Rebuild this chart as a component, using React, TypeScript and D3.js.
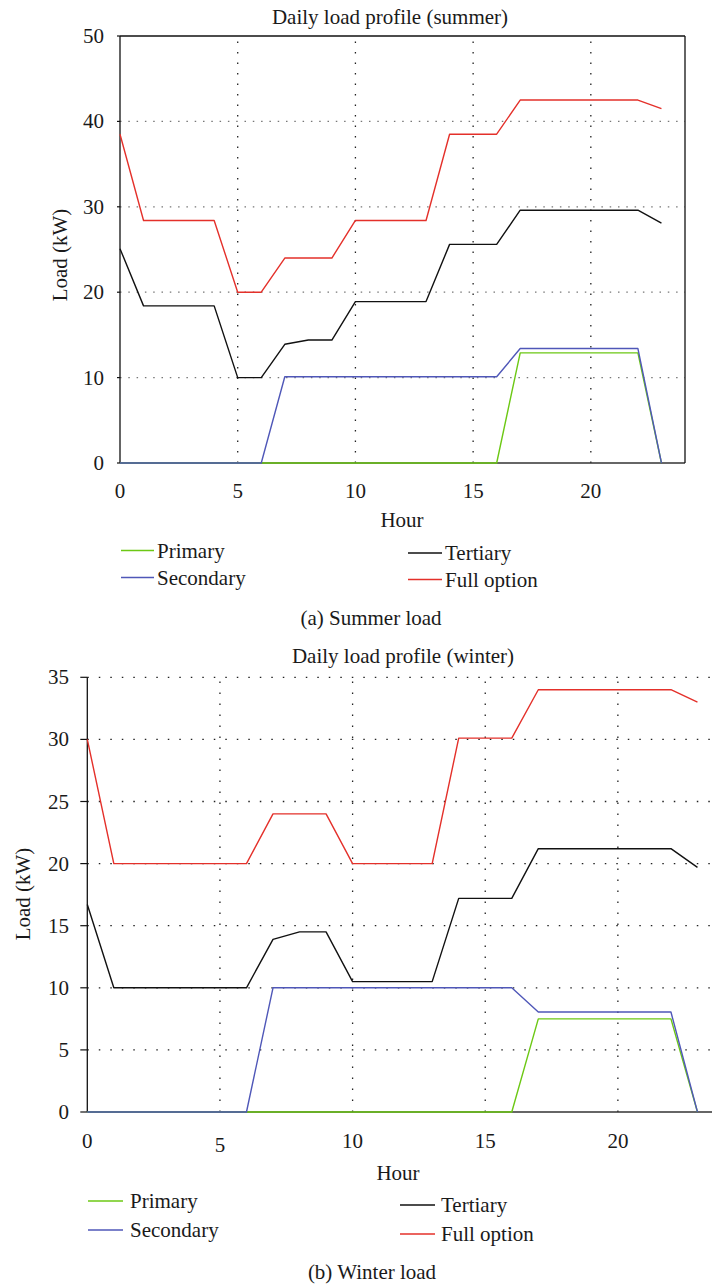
import React from "react";
import * as d3 from "d3";

// hour of the day (x values)
const hours = [0, 1, 2, 3, 4, 5, 6, 7, 8, 9, 10, 11, 12, 13, 14, 15, 16, 17, 18, 19, 20, 21, 22, 23];

const seriesNames = ["Primary", "Secondary", "Tertiary", "Full option"];
const seriesColors = ["#6cc814", "#4f57b8", "#111111", "#e4302a"];

// summer load (kW)
const summerPrimary = [0, 0, 0, 0, 0, 0, 0, 0, 0, 0, 0, 0, 0, 0, 0, 0, 0, 12.9, 12.9, 12.9, 12.9, 12.9, 12.9, 0];
const summerSecondary = [0, 0, 0, 0, 0, 0, 0, 10.1, 10.1, 10.1, 10.1, 10.1, 10.1, 10.1, 10.1, 10.1, 10.1, 13.4, 13.4, 13.4, 13.4, 13.4, 13.4, 0];
const summerTertiary = [25.1, 18.4, 18.4, 18.4, 18.4, 10, 10, 13.9, 14.4, 14.4, 18.9, 18.9, 18.9, 18.9, 25.6, 25.6, 25.6, 29.6, 29.6, 29.6, 29.6, 29.6, 29.6, 28.1];
const summerFull = [38.5, 28.4, 28.4, 28.4, 28.4, 20, 20, 24, 24, 24, 28.4, 28.4, 28.4, 28.4, 38.5, 38.5, 38.5, 42.5, 42.5, 42.5, 42.5, 42.5, 42.5, 41.5];

// winter load (kW)
const winterPrimary = [0, 0, 0, 0, 0, 0, 0, 0, 0, 0, 0, 0, 0, 0, 0, 0, 0, 7.5, 7.5, 7.5, 7.5, 7.5, 7.5, 0];
const winterSecondary = [0, 0, 0, 0, 0, 0, 0, 10, 10, 10, 10, 10, 10, 10, 10, 10, 10, 8.05, 8.05, 8.05, 8.05, 8.05, 8.05, 0];
const winterTertiary = [16.7, 10, 10, 10, 10, 10, 10, 13.9, 14.5, 14.5, 10.5, 10.5, 10.5, 10.5, 17.2, 17.2, 17.2, 21.2, 21.2, 21.2, 21.2, 21.2, 21.2, 19.7];
const winterFull = [30, 20, 20, 20, 20, 20, 20, 24, 24, 24, 20, 20, 20, 20, 30.1, 30.1, 30.1, 34, 34, 34, 34, 34, 34, 33];

const xTicks = [0, 5, 10, 15, 20];
const summerYTicks = [0, 10, 20, 30, 40, 50];
const winterYTicks = [0, 5, 10, 15, 20, 25, 30, 35];

const FONT = "'Liberation Serif', 'Times New Roman', serif";

const Panel = ({ cfg }) => {
    const x = d3.scaleLinear().domain([0, 24]).range([cfg.left, cfg.right]);
    const y = d3.scaleLinear().domain([0, cfg.yMax]).range([cfg.bottom, cfg.top]);
    const line = d3.line().x((d, i) => x(hours[i])).y((d) => y(d));

    return (
        <g fontFamily={FONT} fontSize={21} fill="#1a1a1a">
            <text x={cfg.titleX} y={cfg.titleY} textAnchor="middle" dominantBaseline="central">{cfg.title}</text>

            {/* horizontal grid */}
            {cfg.yTicks.filter((t) => t > 0 && (t < cfg.yMax || !cfg.frame)).map((t) => (
                <line key={"h" + t} x1={x(0)} x2={x(24)} y1={y(t)} y2={y(t)}
                    stroke={cfg.hGridColor} strokeWidth={1.3} strokeDasharray={cfg.hDash} />
            ))}
            {/* vertical grid */}
            {xTicks.filter((t) => t > 0).map((t) => (
                <line key={"v" + t} x1={x(t)} x2={x(t)} y1={y(0)} y2={y(cfg.yMax)}
                    stroke="#222" strokeWidth={1.3} strokeDasharray={cfg.vDash} />
            ))}

            {/* frame */}
            <line x1={x(0)} x2={x(24)} y1={y(0)} y2={y(0)} stroke="#333" strokeWidth={1.3} />
            <line x1={x(0)} x2={x(0)} y1={y(0)} y2={y(cfg.yMax)} stroke="#111" strokeWidth={1.3} />
            {cfg.frame && (
                <>
                    <line x1={x(0)} x2={x(24)} y1={y(cfg.yMax)} y2={y(cfg.yMax)} stroke="#111" strokeWidth={1.3} />
                    <line x1={x(24)} x2={x(24)} y1={y(0)} y2={y(cfg.yMax)} stroke="#111" strokeWidth={1.3} />
                </>
            )}

            {/* y ticks */}
            {cfg.yTicks.map((t) => (
                <g key={"yt" + t}>
                    <line x1={x(0) - cfg.tickLen} x2={x(0)} y1={y(t)} y2={y(t)} stroke="#111" strokeWidth={1.2} />
                    <text x={cfg.yLabelX} y={y(t)} textAnchor="end" dominantBaseline="central">{t}</text>
                </g>
            ))}
            {/* x ticks */}
            {xTicks.map((t) => (
                <text key={"xt" + t} x={x(t)} y={cfg.xLabelY + (cfg.xLabelDy[t] || 0)} textAnchor="middle" dominantBaseline="central">{t}</text>
            ))}

            <text x={cfg.hourX} y={cfg.hourY} textAnchor="middle" dominantBaseline="central">Hour</text>
            <text transform={`translate(${cfg.loadX},${cfg.loadY}) rotate(-90)`} textAnchor="middle" dominantBaseline="central">Load (kW)</text>

            {/* series */}
            {cfg.series.map((s, i) => (
                <path key={"s" + i} d={line(s)} fill="none" stroke={seriesColors[i]} strokeWidth={1.4} strokeLinejoin="round" />
            ))}

            {/* legend */}
            {seriesNames.map((name, i) => {
                const col = cfg.legend[Math.floor(i / 2)];
                const ly = col.ys[i % 2];
                return (
                    <g key={"lg" + i}>
                        <line x1={col.x1} x2={col.x2} y1={ly} y2={ly} stroke={seriesColors[i]} strokeWidth={1.5} />
                        <text x={col.tx} y={ly} dominantBaseline="central">{name}</text>
                    </g>
                );
            })}

            <text x={cfg.capX} y={cfg.capY} textAnchor="middle" dominantBaseline="central">{cfg.caption}</text>
        </g>
    );
};

const summerCfg = {
    title: "Daily load profile (summer)", titleX: 390, titleY: 17,
    left: 120, right: 685, top: 36, bottom: 463, yMax: 50,
    yTicks: summerYTicks, frame: true, hGridColor: "#777", hDash: "1.5 6.8", vDash: "1.5 9",
    tickLen: 3, yLabelX: 104, xLabelY: 491, xLabelDy: {},
    hourX: 402, hourY: 520, loadX: 60, loadY: 255,
    series: [summerPrimary, summerSecondary, summerTertiary, summerFull],
    legend: [
        { x1: 121, x2: 154, tx: 157, ys: [550.5, 577.5] },
        { x1: 408, x2: 442, tx: 445, ys: [553, 579.5] },
    ],
    caption: "(a) Summer load", capX: 371, capY: 618,
};

const winterCfg = {
    title: "Daily load profile (winter)", titleX: 403, titleY: 656,
    left: 87.3, right: 724, top: 677.3, bottom: 1112, yMax: 35,
    yTicks: winterYTicks, frame: false, hGridColor: "#222", hDash: "1.5 10", vDash: "1.5 9.5",
    tickLen: 7, yLabelX: 69, xLabelY: 1141, xLabelDy: { 5: 4 },
    hourX: 398, hourY: 1173, loadX: 23, loadY: 894,
    series: [winterPrimary, winterSecondary, winterTertiary, winterFull],
    legend: [
        { x1: 88, x2: 123, tx: 130, ys: [1201, 1230] },
        { x1: 400, x2: 435, tx: 441, ys: [1205, 1234] },
    ],
    caption: "(b) Winter load", capX: 372, capY: 1272,
};

export default function App() {
    return (
        <svg width={712} height={1284} style={{ position: "absolute", left: 0, top: 0, background: "#fff" }}>
            <rect width={712} height={1284} fill="#fff" />
            <Panel cfg={summerCfg} />
            <Panel cfg={winterCfg} />
        </svg>
    );
}
